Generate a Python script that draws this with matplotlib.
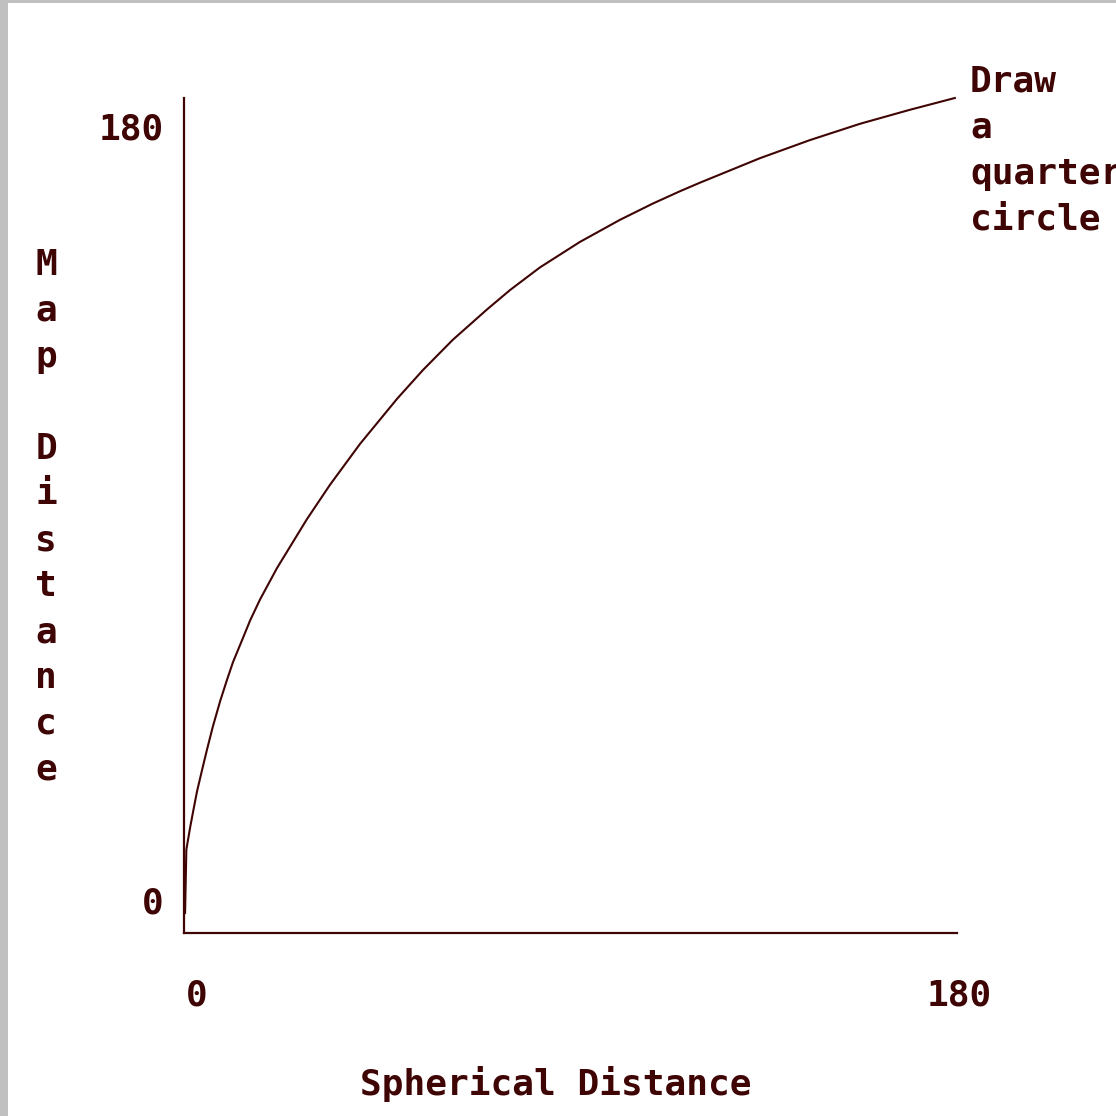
import matplotlib
import matplotlib.pyplot as plt
from matplotlib.patches import Rectangle

matplotlib.use("Agg")

spherical_deg = [0.0, 0.3, 1.2, 1.9, 2.8, 4.0, 5.1, 6.5, 8.2, 9.8, 11.2, 13.6,
                 15.2, 17.5, 21.5, 28.5, 33.9, 40.9, 49.6, 55.6, 62.6, 70.6,
                 76.0, 83.0, 92.3, 101.7, 109.4, 115.7, 120.4, 134.4, 146.1,
                 157.8, 169.5, 180.0]
map_deg = [0.0, 14.0, 19.0, 22.5, 26.9, 31.7, 36.0, 41.2, 46.8, 51.5, 55.4, 60.9,
           64.6, 69.2, 76.2, 87.0, 94.6, 103.6, 113.6, 119.9, 126.6, 133.3,
           137.6, 142.6, 148.2, 153.1, 156.7, 159.4, 161.3, 166.7, 170.7,
           174.3, 177.4, 180.0]

x_tick_labels = ["0", "180"]
y_tick_labels = ["0", "180"]
x_title = "Spherical Distance"
y_title = "Map Distance"
note = "Draw\na\nquarter\ncircle"

INK = "#3f0404"
W = H = 1116
FONT = dict(family="DejaVu Sans Mono", weight="bold", size=26, color=INK)


def fx(px):
    return px / W


def fy(py):
    return 1 - py / H


fig = plt.figure(figsize=(W / 100, H / 100), dpi=100)
fig.patch.set_facecolor("#c0c0c0")
fig.add_artist(Rectangle((fx(8), 0), 1, fy(3), transform=fig.transFigure,
                         facecolor="white", edgecolor="none", zorder=0))

# axes box: left spine at px 184, bottom spine at px 933, top at 98, right at 957
ax = fig.add_axes([fx(184), fy(933), fx(957 - 184), (933 - 98) / H])
ax.set_facecolor("none")
ax.set_xlim(-0.25, 180.5)
ax.set_ylim(-4.4, 180)
for side in ("top", "right"):
    ax.spines[side].set_visible(False)
for side in ("left", "bottom"):
    ax.spines[side].set_color(INK)
    ax.spines[side].set_linewidth(1.6)
ax.set_xticks([])
ax.set_yticks([])

ax.plot(spherical_deg, map_deg, color=INK, lw=1.5, clip_on=False)

# tick labels sit a little off the axis ends
fig.text(fx(164), fy(140), y_tick_labels[1], ha="right", va="baseline", **FONT)
fig.text(fx(164), fy(914), y_tick_labels[0], ha="right", va="baseline", **FONT)
fig.text(fx(197), fy(1006), x_tick_labels[0], ha="center", va="baseline", **FONT)
fig.text(fx(959), fy(1006), x_tick_labels[1], ha="center", va="baseline", **FONT)

fig.text(fx(556), fy(1095), x_title, ha="center", va="baseline", **FONT)
fig.text(fx(46), fy(248), "\n".join(y_title), ha="center", va="top",
         multialignment="center", linespacing=1.44, **FONT)
fig.text(fx(970), fy(65), note, ha="left", va="top", linespacing=1.44, **FONT)

fig.savefig("out.png", dpi=100)
